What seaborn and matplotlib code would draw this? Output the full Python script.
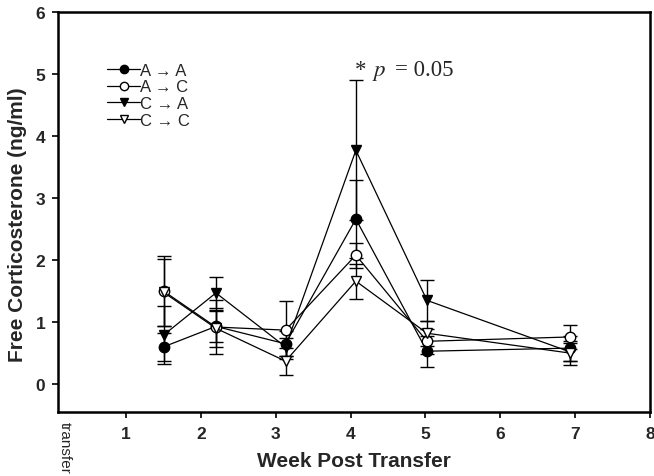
import matplotlib
matplotlib.use("Agg")
import matplotlib.pyplot as plt
import seaborn as sns
import numpy as np
import pandas as pd
from matplotlib.lines import Line2D

weeks = [1.5, 2.2, 3.13, 4.07, 5.02, 6.93]
series_names = ["A \u2192 A", "A \u2192 C", "C \u2192 A", "C \u2192 C"]
aa = [0.60, 0.93, 0.65, 2.66, 0.53, 0.58]
aa_err = [0.23, 0.25, 0.20, 0.63, 0.25, 0.20]
ac = [1.50, 0.92, 0.87, 2.08, 0.69, 0.76]
ac_err = [0.56, 0.44, 0.47, 0.20, 0.20, 0.19]
ca = [0.79, 1.47, 0.60, 3.77, 1.35, 0.52]
ca_err = [0.47, 0.25, 0.15, 1.13, 0.33, 0.15]
cc = [1.48, 0.90, 0.37, 1.66, 0.82, 0.50]
cc_err = [0.54, 0.30, 0.22, 0.28, 0.20, 0.20]

values = [aa, ac, ca, cc]
errors = [aa_err, ac_err, ca_err, cc_err]
markers = ["o", "o", "v", "v"]
facecolors = ["black", "white", "black", "white"]

sns.set_theme(style="white")
plt.rcParams["font.family"] = ["Liberation Sans", "DejaVu Sans"]

fig = plt.figure(figsize=(6.54, 4.77), dpi=100)
ax = fig.add_axes([58/654, 1-413/477, 592/654, 400/477])

rows = []
for name, v, e in zip(series_names, values, errors):
    for w, yv, ev in zip(weeks, v, e):
        rows.append({"week": w, "value": yv, "err": ev, "group": name})
df = pd.DataFrame(rows)

for name, m, fc in zip(series_names, markers, facecolors):
    sub = df[df["group"] == name]
    ax.errorbar(sub["week"], sub["value"], yerr=sub["err"], fmt="none",
                ecolor="black", elinewidth=1.0, capsize=5, capthick=1.0, zorder=2)
    sns.lineplot(data=sub, x="week", y="value", ax=ax, color="black",
                 linewidth=0.9, marker=m, markersize=7.5, markerfacecolor=fc,
                 markeredgecolor="black", markeredgewidth=1.0, zorder=3,
                 sort=False, estimator=None)

ax.set_xlim(0.09, 8)
ax.set_ylim(-0.45, 6)
ax.set_xticks([1, 2, 3, 4, 5, 6, 7, 8])
ax.set_yticks([0, 1, 2, 3, 4, 5, 6])
ax.tick_params(axis="both", direction="out", length=4, width=1.2, color="black",
               labelsize=12.5, bottom=True, left=True, top=False, right=False)
ax.tick_params(axis="x", pad=6)
ax.tick_params(axis="y", pad=5)
for lab in ax.get_xticklabels() + ax.get_yticklabels():
    lab.set_fontweight("bold")
for sp in ax.spines.values():
    sp.set_visible(True)
    sp.set_color("black")
    sp.set_linewidth(1.8)

ax.set_xlabel("")
ax.set_ylabel("")
fig.text(354/654, 1-462/477, "Week Post Transfer", fontsize=15, fontweight="bold",
         ha="center", va="center")
fig.text(18/654, 1-225/477, "Free Corticosterone (ng/ml)", fontsize=15, fontweight="bold",
         ha="center", va="center", rotation=90)

fig.text(65/654, 1-422/477, "transfer", rotation=-90, ha="center", va="top", fontsize=11)

ax.text(4.06, 4.98, "*", fontsize=16.5, family="Liberation Serif", ha="left", va="baseline")
ax.text(4.29, 4.98, "$p$", fontsize=16.5, math_fontfamily="stix", ha="left", va="baseline")
ax.text(4.59, 4.98, "= 0.05", fontsize=16.5, family="Liberation Serif", ha="left", va="baseline")

handles = [Line2D([], [], color="black", linewidth=0.9, marker=m, markersize=6,
                  markerfacecolor=fc, markeredgecolor="black")
           for m, fc in zip(markers, facecolors)]
leg = ax.legend(handles, series_names, loc="upper left", bbox_to_anchor=(0.083, 0.873),
                frameon=False, fontsize=12, borderpad=0, handletextpad=0.0,
                labelspacing=0.1, handlelength=2.0, borderaxespad=0)

fig.savefig("out.png", dpi=100)
